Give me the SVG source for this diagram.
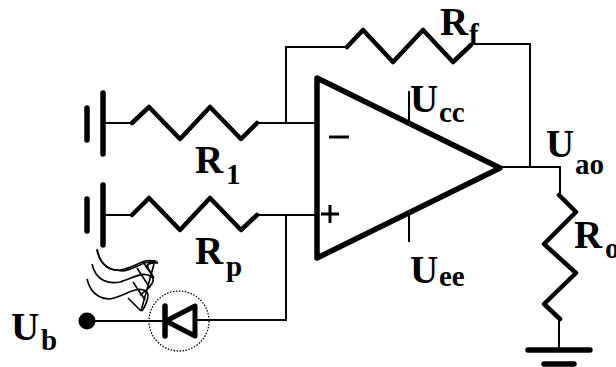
<svg xmlns="http://www.w3.org/2000/svg" width="616" height="367" viewBox="0 0 616 367">
<style>
.w{fill:none;stroke:#000;stroke-width:2;stroke-linejoin:miter}
.h{fill:none;stroke:#000;stroke-width:4.5;stroke-linejoin:round;stroke-linecap:round}
.p{fill:none;stroke:#000;stroke-width:5.5;stroke-linecap:round}
.f{fill:none;stroke:#000;stroke-width:1.6}
text{font-family:"Liberation Serif",serif;font-weight:bold;fill:#000}
.b{font-size:39px}
.s{font-size:29px}
</style>
<rect width="616" height="367" fill="#fff"/>
<g id="connectors">
<path class="w" d="M286 123V47H347M471 44H530V167M500 167H560V195"/>
<path class="w" d="M103 123H132M257 123H316M103 215H132M257 215H316M286 215V320H196M87 321H165"/>
<path class="w" d="M559 319V350"/>
<path class="w" d="M409 91V124M409 212V242"/>
</g>
<g id="opamp">
<path d="M317 78V258L500 168Z" fill="none" stroke="#000" stroke-width="5.5" stroke-linejoin="round"/>
<path d="M329 137H349" stroke="#000" stroke-width="3" fill="none"/>
<path d="M330 205V223M321 214H339" stroke="#000" stroke-width="3" fill="none"/>
</g>
<g id="r1"><path class="h" d="M132 123L149 107L180 139L210 107L241 139L257 123"/>
<text class="b" x="195" y="173">R</text><text class="s" x="226" y="184">1</text></g>
<g id="rp"><path class="h" d="M132 215L149 198L180 230L210 198L241 230L257 215"/>
<text class="b" x="195" y="264">R</text><text class="s" x="226" y="276">p</text></g>
<g id="rf"><path class="h" d="M347 47L363 30L393 62L423 30L453 62L471 45"/>
<text class="b" x="440" y="35">R</text><text class="s" x="469" y="44">f</text></g>
<g id="ro"><path class="h" d="M559 195L576 212L544 244L576 273L544 304L560 319"/>
<text class="b" x="574" y="248">R</text><text class="s" x="605" y="258">o</text></g>
<g id="gnd1"><path class="p" d="M103 93V154M87 108V140"/></g>
<g id="gnd2"><path class="p" d="M103 185V245M87 199V231"/></g>
<g id="gnd3"><path class="p" d="M528 350H590M544 364H574"/></g>
<g id="ucc"><text class="b" x="410" y="112">U</text><text class="s" x="439" y="122">cc</text></g>
<g id="uee"><text class="b" x="410" y="283">U</text><text class="s" x="439" y="286">ee</text></g>
<g id="uao"><text class="b" x="546" y="157">U</text><text class="s" x="575" y="174">ao</text></g>
<g id="ub"><circle cx="87" cy="321" r="8.5"/><text class="b" x="11" y="340">U</text><text class="s" x="41" y="350">b</text></g>
<g id="diode">
<circle cx="179" cy="321" r="30" fill="none" stroke="#000" stroke-width="1.3" stroke-dasharray="1.5 1.5"/>
<path class="p" d="M165 306V336"/>
<path d="M166 321L195 306V336Z" fill="none" stroke="#000" stroke-width="5" stroke-linejoin="round"/>
</g>
<g id="light">
<path class="f" d="M97 250C101 268 112 270 122 271C135 270 146 258 158 263C140 262 150 270 154 278L143 262M154 263L149 262"/>
<path class="f" d="M97 249C100 266 110 271 120 270C136 268 142 258 155 261C145 264 146 268 147 268"/>
<path class="f" d="M92 264C96 282 110 284 120 282C132 279 142 270 152 277C158 283 140 295 140 295"/>
<path class="f" d="M87 279C91 296 104 301 114 298C128 294 136 286 146 291C152 296 142 311 142 311"/>
<path class="f" d="M154 264L141 311M137 268L150 288M133 282L145 300M128 298L141 311"/>
</g>
</svg>
